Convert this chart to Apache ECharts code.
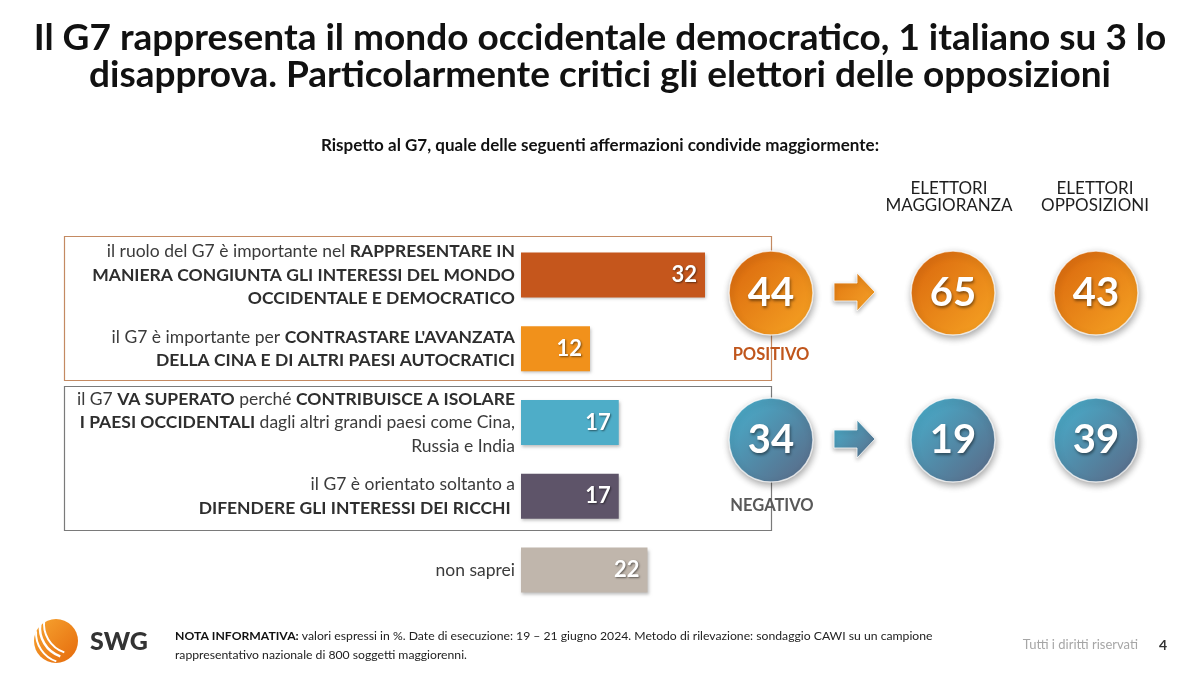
<!DOCTYPE html>
<html>
<head>
<meta charset="utf-8">
<script src="https://cdn.jsdelivr.net/npm/echarts@6/dist/echarts.min.js"></script>
<style>
  html, body { margin: 0; padding: 0; background: #fff; }
  #chart { width: 1200px; height: 675px; }
</style>
</head>
<body>
<div id="chart"></div>
<script>
// risposte (dall'alto in basso)
const answers = [
  '{n|il ruolo del G7 è importante nel }{b|RAPPRESENTARE IN}\n{b|MANIERA CONGIUNTA GLI INTERESSI DEL MONDO}\n{b|OCCIDENTALE E DEMOCRATICO}',
  '{n|il G7 è importante per }{b|CONTRASTARE L\'AVANZATA}\n{b|DELLA CINA E DI ALTRI PAESI AUTOCRATICI}',
  '{n|il G7 }{b|VA SUPERATO}{n| perché }{b|CONTRIBUISCE A ISOLARE}\n{b|I PAESI OCCIDENTALI}{n| dagli altri grandi paesi come Cina,}\n{n|Russia e India}',
  '{n|il G7 è orientato soltanto a}\n{b|DIFENDERE GLI INTERESSI DEI RICCHI }',
  '{n|non saprei}'
];
const values = [32, 12, 17, 17, 22];
const barColors = ['#c5561c', '#f1911b', '#4eadc8', '#5e5469', '#c0b6ac'];

// riepilogo positivo / negativo
const groups = ['POSITIVO', 'NEGATIVO'];
const totale = [44, 34];
const electorates = ['ELETTORI\nMAGGIORANZA', 'ELETTORI\nOPPOSIZIONI'];
const maggioranza = [65, 19];
const opposizioni = [43, 39];

const FONT = 'Lato';

const bubbleFill = [
  new echarts.graphic.LinearGradient(0, 0, 1, 1, [
    { offset: 0, color: '#d8640c' },
    { offset: 1, color: '#f7a524' }
  ]),
  new echarts.graphic.LinearGradient(0, 0, 1, 1, [
    { offset: 0, color: '#47b2d0' },
    { offset: 1, color: '#5b6683' }
  ])
];

function bubbleData(vals, x) {
  return vals.map((v, i) => ({
    value: [x, i, v],
    itemStyle: { color: bubbleFill[i] }
  }));
}

const bubbleStyle = {
  type: 'scatter',
  symbolSize: 84,
  itemStyle: {
    opacity: 1,
    borderColor: 'rgba(255,255,255,0.7)',
    borderWidth: 1.5,
    shadowBlur: 7,
    shadowOffsetX: 1,
    shadowOffsetY: 3,
    shadowColor: 'rgba(0,0,0,0.35)'
  },
  label: {
    show: true,
    position: 'inside',
    formatter: p => p.value[2],
    color: '#fff',
    fontFamily: FONT,
    fontWeight: 'bold',
    fontSize: 40,
    textShadowColor: 'rgba(0,0,0,0.45)',
    textShadowBlur: 3,
    textShadowOffsetX: 1,
    textShadowOffsetY: 2
  },
  silent: true
};

function arrow(cy, c0, c1) {
  return {
    type: 'polygon',
    shape: {
      points: [[834, cy - 9], [857, cy - 9], [857, cy - 19], [875, cy], [857, cy + 19], [857, cy + 9], [834, cy + 9]]
    },
    style: {
      fill: new echarts.graphic.LinearGradient(0, 0, 1, 1, [
        { offset: 0, color: c0 }, { offset: 1, color: c1 }
      ]),
      stroke: 'rgba(255,255,255,0.8)',
      lineWidth: 1,
      shadowBlur: 4,
      shadowOffsetY: 2,
      shadowColor: 'rgba(0,0,0,0.3)'
    }
  };
}

const chart = echarts.init(document.getElementById('chart'));

const option = {
  backgroundColor: '#fff',
  animation: false,
  textStyle: { fontFamily: FONT },
  grid: [
    { left: 521, top: 238, width: 230, height: 369 },
    { left: 729, top: 219.5, width: 84, height: 294 },
    { left: 881.5, top: 219.5, width: 286, height: 294 }
  ],
  xAxis: [
    { gridIndex: 0, type: 'value', min: 0, max: 40, show: false },
    { gridIndex: 1, type: 'category', data: ['TOTALE'], show: false },
    { gridIndex: 2, type: 'category', data: electorates, show: false }
  ],
  yAxis: [
    {
      gridIndex: 0,
      type: 'category',
      inverse: true,
      data: answers,
      axisLine: { show: false },
      axisTick: { show: false },
      axisLabel: {
        margin: 6,
        align: 'right',
        rich: {
          n: { fontFamily: FONT, fontSize: 17.5, color: '#3b3b3b', lineHeight: 23.5, align: 'right' },
          b: { fontFamily: FONT, fontSize: 17.5, color: '#2e2e2e', fontWeight: 'bold', lineHeight: 23.5, align: 'right' }
        }
      }
    },
    { gridIndex: 1, type: 'category', inverse: true, data: groups, show: false },
    { gridIndex: 2, type: 'category', inverse: true, data: groups, show: false }
  ],
  series: [
    {
      type: 'bar',
      xAxisIndex: 0,
      yAxisIndex: 0,
      barWidth: 45,
      data: values.map((v, i) => ({ value: v, itemStyle: { color: barColors[i] } })),
      itemStyle: {
        shadowBlur: 3,
        shadowOffsetX: 1,
        shadowOffsetY: 2,
        shadowColor: 'rgba(0,0,0,0.25)'
      },
      label: {
        show: true,
        position: 'insideRight',
        distance: 8,
        color: '#fff',
        fontFamily: FONT,
        fontWeight: 'bold',
        fontSize: 22,
        textShadowColor: 'rgba(0,0,0,0.5)',
        textShadowBlur: 2,
        textShadowOffsetX: 1,
        textShadowOffsetY: 1
      },
      silent: true
    },
    Object.assign({ xAxisIndex: 1, yAxisIndex: 1, z: 5, data: bubbleData(totale, 0) }, bubbleStyle),
    Object.assign({ xAxisIndex: 2, yAxisIndex: 2, data: bubbleData(maggioranza, 0).concat(bubbleData(opposizioni, 1)) }, bubbleStyle)
  ],
  graphic: [
    {
      type: 'text', x: 600, y: 57,
      style: {
        text: 'Il G7 rappresenta il mondo occidentale democratico, 1 italiano su 3 lo\ndisapprova. Particolarmente critici gli elettori delle opposizioni',
        align: 'center', verticalAlign: 'middle',
        font: 'bold 37px ' + FONT, fill: '#111', lineHeight: 37
      }
    },
    {
      type: 'text', x: 600, y: 146,
      style: {
        text: 'Rispetto al G7, quale delle seguenti affermazioni condivide maggiormente:',
        align: 'center', verticalAlign: 'middle',
        font: 'bold 17px ' + FONT, fill: '#111'
      }
    },
    // riquadri dei gruppi
    { type: 'rect', z: -1, shape: { x: 64.5, y: 236.5, width: 707, height: 144 }, style: { fill: 'none', stroke: '#c48a62', lineWidth: 1.2 } },
    { type: 'rect', z: -1, shape: { x: 64.5, y: 386.5, width: 707, height: 144 }, style: { fill: 'none', stroke: '#7a7a7a', lineWidth: 1.2 } },
    arrow(292, '#e0760f', '#f6a32a'),
    arrow(439, '#48aecb', '#5a6d8a'),
    { type: 'text', x: 771, y: 355, style: { text: 'POSITIVO', align: 'center', verticalAlign: 'middle', font: 'bold 16.5px ' + FONT, fill: '#c0561c' } },
    { type: 'text', x: 772, y: 506, style: { text: 'NEGATIVO', align: 'center', verticalAlign: 'middle', font: 'bold 16.5px ' + FONT, fill: '#595959' } },
    { type: 'text', x: 949, y: 197, style: { text: 'ELETTORI\nMAGGIORANZA', align: 'center', verticalAlign: 'middle', font: '17px ' + FONT, fill: '#1e1e1e', lineHeight: 17 } },
    { type: 'text', x: 1095, y: 197, style: { text: 'ELETTORI\nOPPOSIZIONI', align: 'center', verticalAlign: 'middle', font: '17px ' + FONT, fill: '#1e1e1e', lineHeight: 17 } },
    // logo SWG
    {
      type: 'group',
      children: [
        {
          type: 'circle',
          shape: { cx: 56, cy: 641, r: 22 },
          style: {
            fill: new echarts.graphic.LinearGradient(0, 0, 1, 1, [
              { offset: 0, color: '#f7a531' }, { offset: 1, color: '#e56a0c' }
            ])
          }
        },
        { type: 'arc', shape: { cx: 70, cy: 628, r: 30, startAngle: 1.9, endAngle: 3.3 }, style: { stroke: '#fff', lineWidth: 2.5, fill: 'none' } },
        { type: 'arc', shape: { cx: 74, cy: 624, r: 30, startAngle: 1.9, endAngle: 3.3 }, style: { stroke: '#fff', lineWidth: 2, fill: 'none' } },
        { type: 'arc', shape: { cx: 66, cy: 633, r: 30, startAngle: 1.9, endAngle: 3.2 }, style: { stroke: '#fff', lineWidth: 2, fill: 'none' } },
        { type: 'text', x: 90, y: 642, style: { text: 'SWG', verticalAlign: 'middle', font: '900 25px ' + FONT, fill: '#333' } }
      ]
    },
    {
      type: 'text', x: 175, y: 646,
      style: {
        text: '{b|NOTA INFORMATIVA:}{n| valori espressi in %. Date di esecuzione: 19 – 21 giugno 2024. Metodo di rilevazione: sondaggio CAWI su un campione}\n{n|rappresentativo nazionale di 800 soggetti maggiorenni.}',
        verticalAlign: 'middle',
        rich: {
          b: { font: 'bold 12.2px ' + FONT, fill: '#111', lineHeight: 19 },
          n: { font: '12.2px ' + FONT, fill: '#222', lineHeight: 19 }
        }
      }
    },
    { type: 'text', x: 1138, y: 645, style: { text: 'Tutti i diritti riservati', align: 'right', verticalAlign: 'middle', font: '13px ' + FONT, fill: '#a6a6a6' } },
    { type: 'text', x: 1163, y: 645, style: { text: '4', align: 'center', verticalAlign: 'middle', font: 'bold 14px ' + FONT, fill: '#333' } }
  ]
};

chart.setOption(option);
</script>
</body>
</html>
